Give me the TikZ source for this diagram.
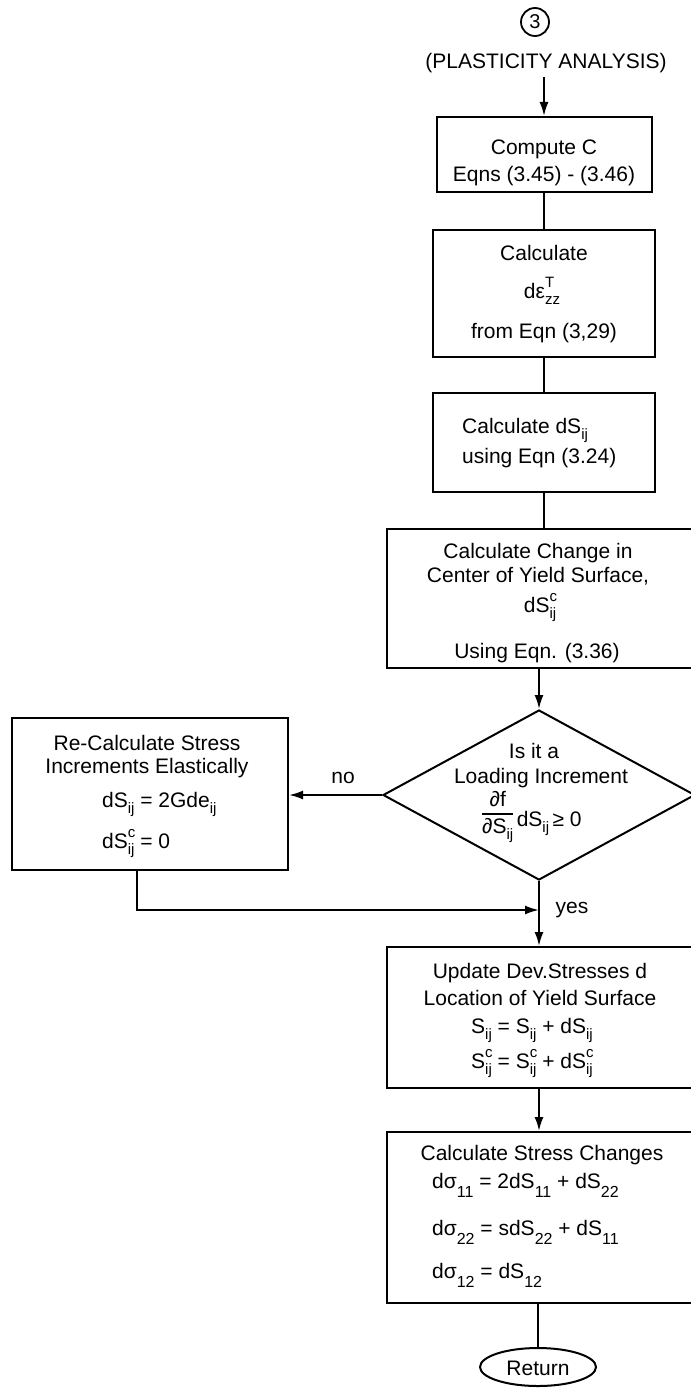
\documentclass[tikz,border=0pt]{standalone}
\usepackage{fontspec}
\setmainfont{Liberation Sans}
\usetikzlibrary{arrows.meta,shapes.geometric}
% small raised / lowered indices set as text
\newcommand\lo[1]{\raisebox{-0.55ex}{\fontsize{15}{15}\selectfont #1}}
\newcommand\lolo[1]{\raisebox{-0.85ex}{\fontsize{16}{16}\selectfont #1}}
\newcommand\hi[1]{\raisebox{0.95ex}{\fontsize{15}{15}\selectfont #1}}
\newcommand\hilo[2]{\makebox[0pt][l]{\hi{#1}}\lo{#2}}
\begin{document}
\begin{tikzpicture}[x=1pt,y=-1pt,
  txt/.style={font=\fontsize{21}{25}\selectfont, inner sep=0pt, anchor=base},
  box/.style={draw, line width=2pt, inner sep=0pt, rectangle},
  link/.style={line width=2pt},
  arr/.style={line width=2pt, -{Latex[length=14pt,width=9pt]}}]

\useasboundingbox (0,0) rectangle (690,1388);
\fill[white] (0,0) rectangle (690,1388);

% entry point
\node[circle, draw, line width=1.8pt, minimum size=28pt, inner sep=0pt,
      font=\fontsize{20}{20}\selectfont] (three) at (535,22) {3};
\node[txt, anchor=center] (plast) at (546,63) {(PLASTICITY ANALYSIS)};

% boxes of the main column
\node[box, minimum width=215pt, minimum height=75pt]  (c1) at (544,154.5) {};
\node[box, minimum width=222pt, minimum height=127pt] (c2) at (544,293.5) {};
\node[box, minimum width=222pt, minimum height=99pt]  (c3) at (544,442.5) {};
\node[box, minimum width=306pt, minimum height=139pt] (c4) at (540,598.5) {};
\node[draw, line width=2pt, diamond, inner sep=0pt,
      minimum width=312pt, minimum height=170pt]      (dec) at (539,795) {};
\node[box, minimum width=276pt, minimum height=152pt] (el) at (150,794) {};
\node[box, minimum width=306pt, minimum height=141pt] (up) at (540,1017.5) {};
\node[box, minimum width=306pt, minimum height=171pt] (sc) at (540,1217.5) {};
\node[draw, line width=2pt, ellipse, inner sep=0pt,
      minimum width=116pt, minimum height=38pt]       (ret) at (538,1367) {};

% texts
\node[txt] (t1a) at (544,155) {Compute C};
\node[txt] (t1b) at (544,182) {Eqns (3.45) - (3.46)};

\node[txt] (t2a) at (544,260) {Calculate};
\node[txt] (t2b) at (542,298) {dε\hilo{T}{zz}};
\node[txt] (t2c) at (544,338) {from Eqn (3,29)};

\node[txt, anchor=base west] (t3a) at (462,433) {Calculate dS\lo{ij}};
\node[txt, anchor=base west] (t3b) at (462,463) {using Eqn (3.24)};

\node[txt] (t4a) at (538,558) {Calculate Change in};
\node[txt] (t4b) at (538,582) {Center of Yield Surface,};
\node[txt] (t4c) at (540,612) {dS\hilo{c}{ij}};
\node[txt] (t4d) at (537,658) {Using Eqn. (3.36)};

\node[txt] (tda) at (534,758) {Is it a};
\node[txt] (tdb) at (541,783) {Loading Increment};
\node[txt, anchor=base west] (tdc) at (482,826)
  {\renewcommand\arraystretch{1.05}\setlength\arrayrulewidth{1.4pt}%
   \raisebox{0.5ex}{\begin{tabular}{@{}c@{}}∂f\\[-1pt]\hline ∂S\lo{ij}\end{tabular}}\,dS\lo{ij}\,≥ 0};

\node[txt] (tea) at (147,750) {Re-Calculate Stress};
\node[txt] (teb) at (147,773) {Increments Elastically};
\node[txt, anchor=base west] (tec) at (102,807) {dS\lo{ij} = 2Gde\lo{ij}};
\node[txt, anchor=base west] (ted) at (102,848) {dS\hilo{c}{ij} = 0};

\node[txt] (tua) at (540,978) {Update Dev.Stresses d};
\node[txt] (tub) at (540,1005) {Location of Yield Surface};
\node[txt] (tuc) at (532,1033) {S\lo{ij} = S\lo{ij} + dS\lo{ij}};
\node[txt] (tud) at (532,1068) {S\hilo{c}{ij} = S\hilo{c}{ij} + dS\hilo{c}{ij}};

\node[txt] (tsa) at (542,1160) {Calculate Stress Changes};
\node[txt, anchor=base west] (tsb) at (432,1188) {dσ\lolo{11} = 2dS\lolo{11} + dS\lolo{22}};
\node[txt, anchor=base west] (tsc) at (432,1235) {dσ\lolo{22} = sdS\lolo{22} + dS\lolo{11}};
\node[txt, anchor=base west] (tsd) at (432,1278) {dσ\lolo{12} = dS\lolo{12}};

\node[txt] (tr) at (538,1375) {Return};

% branch labels
\node[txt] (lno)  at (343,783) {no};
\node[txt] (lyes) at (572,913) {yes};

% connectors
\draw[arr]  (plast.south -| c1.north) ++(0,4) -- (c1.north);
\draw[link] (c1.south) -- (c2.north);
\draw[link] (c2.south) -- (c3.north);
\draw[link] (c3.south) -- (c3.south |- c4.north);
\draw[arr]  (c4.south -| dec.north) -- (dec.north);
\draw[arr]  (dec.west) -- (dec.west -| el.east);
\draw[arr]  (dec.south) -- (dec.south |- up.north);
\coordinate (fb) at (137,910);
\draw[arr]  (el.south -| fb) |- (fb -| dec.south);
\draw[arr]  (up.south -| dec.south) -- (dec.south |- sc.north);
\draw[link] (sc.south -| ret.north) -- (ret.north);
\end{tikzpicture}
\end{document}
